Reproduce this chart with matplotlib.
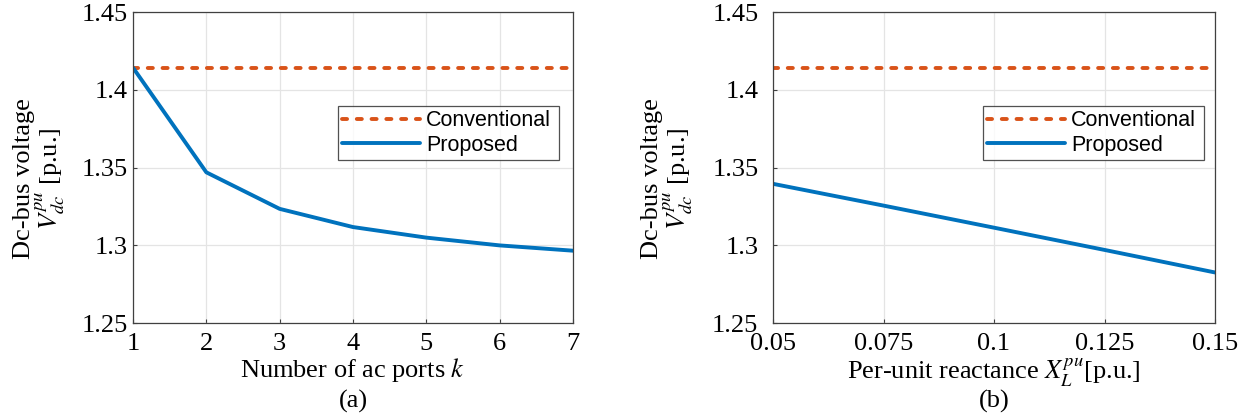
import numpy as np
import matplotlib
matplotlib.use("Agg")
import matplotlib.pyplot as plt

plt.rcParams['font.family'] = ['Liberation Serif', 'DejaVu Serif']
plt.rcParams['mathtext.fontset'] = 'stix'

# (a) dc-bus voltage vs number of ac ports
ports = [1, 2, 3, 4, 5, 6, 7]
proposed_a = [1.4142, 1.3469, 1.3234, 1.3117, 1.3049, 1.2999, 1.2965]
conventional_a = [1.4142] * len(ports)

# (b) dc-bus voltage vs per-unit reactance
reactance = [0.05, 0.075, 0.1, 0.125, 0.15]
proposed_b = [1.3395, 1.3255, 1.3113, 1.2970, 1.2825]
conventional_b = [1.4142] * len(reactance)

orange = '#D95319'
blue = '#0072BD'

W, H = 1251, 419
fig = plt.figure(figsize=(W / 100, H / 100), dpi=100)
ax1 = fig.add_axes([133 / W, (H - 323) / H, 440 / W, 311 / H])
ax2 = fig.add_axes([773 / W, (H - 323) / H, 442 / W, 311 / H])

panels = [
    (ax1, ports, conventional_a, proposed_a, [1, 7], ports, ['1', '2', '3', '4', '5', '6', '7'],
     'Number of ac ports $\\mathit{k}$', '(a)', (338, 106, 221, 54), 67, 4),
    (ax2, reactance, conventional_b, proposed_b, [0.05, 0.15], reactance,
     ['0.05', '0.075', '0.1', '0.125', '0.15'],
     'Per-unit reactance $X_L^{pu}$[p.u.]', '(b)', (983, 107, 221, 53), 695, 10.5),
]

fs = 19
for ax, x, conv, prop, xlim, xt, xtl, xlab, cap, lg, ylx, ypad in panels:
    ax.plot(x, conv, color=orange, lw=2.8, linestyle=(0, (1.3, 2.5)),
            dash_capstyle='round', label='Conventional')
    ax.plot(x, prop, color=blue, lw=2.8, label='Proposed', solid_capstyle='round')
    ax.set_xlim(xlim)
    ax.set_ylim(1.25, 1.45)
    ax.set_xticks(xt)
    ax.set_xticklabels(xtl)
    ax.set_yticks([1.25, 1.3, 1.35, 1.4, 1.45])
    ax.set_yticklabels(['1.25', '1.3', '1.35', '1.4', '1.45'])
    ax.tick_params(labelsize=fs, direction='in', length=3, width=0.8, color='#404040')
    ax.tick_params(axis='x', pad=7)
    ax.tick_params(axis='y', pad=ypad)
    ax.grid(True, color='#e4e4e4', lw=0.9)
    ax.set_axisbelow(True)
    for s in ax.spines.values():
        s.set_color('#404040')
        s.set_linewidth(0.9)
    ax.set_xlabel(xlab, fontsize=fs, labelpad=1)
    ax.set_ylabel('Dc-bus voltage\n$V_{dc}^{pu}$ [p.u.]', fontsize=fs, linespacing=0.9)
    bb = ax.get_position()
    ax.yaxis.set_label_coords((ylx / W - bb.x0) / bb.width, 0.463)
    lx, ly, lw_, lh = lg
    leg = ax.legend(loc='lower left',
                    bbox_to_anchor=(lx / W, (H - ly - lh) / H, lw_ / W, lh / H),
                    bbox_transform=fig.transFigure, mode='expand',
                    prop={'family': 'Liberation Sans', 'size': 15.5},
                    frameon=True, fancybox=False, handlelength=3.6,
                    handletextpad=0.3, borderpad=0.2, labelspacing=0.15,
                    borderaxespad=0)
    leg.get_frame().set_edgecolor('#262626')
    leg.get_frame().set_linewidth(0.9)
    fig.text((bb.x0 + bb.x1) / 2, (H - 401) / H, cap, ha='center', va='center', fontsize=fs)

fig.savefig('out.png', dpi=100)
